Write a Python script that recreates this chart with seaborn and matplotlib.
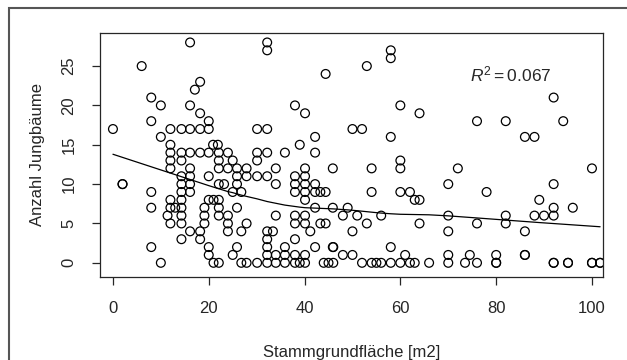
import numpy as np
import pandas as pd
import seaborn as sns
import matplotlib.pyplot as plt
from matplotlib.patches import Rectangle

# Stammgrundfläche [m2] und Anzahl Jungbäume
# (einige Kreise liegen mehrfach übereinander)
basal_area = [
    0, 2, 2, 6, 8, 10, 8, 10, 8, 8, 8, 10,
    12, 12, 12, 12, 12, 12, 12, 12, 13, 11.4,
    14.3, 14.3, 14.3, 14.3, 14.3, 14.3, 14.3, 14.3, 14.3, 14.3, 14.3,
    16.1, 16.1, 16.1, 16.1, 16.1, 16.1, 16.1, 16.1, 16.1,
    17.1, 18.2, 18.2, 18.2, 18.2, 18.2, 18.2,
    19.1, 19.1, 19.1,
    20, 20, 20, 20, 20, 20, 20,
    21, 21, 20.9, 21.9,
    22.1, 22.1, 22.1, 22.1, 22.1, 22.1, 22.1, 22.1,
    23.2, 24, 24, 24, 24, 24, 25, 25, 25,
    25.9, 25.9, 25.9, 25.9, 25.9, 26.8, 26.8, 26.8,
    27.9, 27.9, 27.9, 27.9,
    30.1, 30.1, 30.1, 30.1, 30.1,
    32.2, 32.2, 32.2, 32.2, 32.2, 32.2, 32.2, 32.2, 32.2, 32.2,
    33.4, 34, 34, 34, 34, 34, 35.9, 35.9, 35.9, 35.9,
    38, 38, 38, 38, 38, 38, 38, 38, 38, 39, 39,
    40.1, 40.1, 40.1, 40.1, 40.1, 40.1, 40.1, 40.1, 40.1, 40.1,
    41.2, 42.2, 42.2, 42.2, 42.2, 42.2, 42.2,
    43.3, 43.3, 44, 45, 46, 44.4, 44.4, 44.4,
    45.9, 45.9, 45.9, 46, 48, 48, 49, 50, 51, 50, 50,
    52, 53, 52, 54, 54, 54, 55, 56, 56, 53,
    58, 58, 58, 58, 58, 60, 60, 60, 60, 60, 61,
    62, 62, 63, 63, 64, 64, 64, 66,
    70, 70, 70, 70, 70, 72, 74.5, 73.5, 76, 76, 76, 78, 80, 80,
    82, 82, 82, 86, 86, 86, 88, 88, 89, 90,
    92, 92, 92, 92, 92, 94, 95, 96, 100, 100, 101.7,
    # doppelte Kreise
    80, 92, 95, 100, 101.7, 86,
]
saplings = [
    17, 10, 10, 25, 21, 20, 18, 16, 9, 7, 2, 0,
    17, 15, 14, 13, 12, 8, 7, 5, 7, 6,
    17, 14, 13, 11, 10, 9, 8, 7, 6, 5, 3,
    28, 20, 17, 14, 12, 11, 10, 9, 4,
    22, 23, 19, 17, 14, 4, 3,
    7, 6, 5,
    18, 17, 14, 11, 8, 2, 1,
    8, 0, 15, 15,
    14, 13, 12, 10, 8, 7, 6, 0,
    10, 14, 12, 6, 5, 4, 13, 9, 1,
    12, 11, 10, 7, 2, 9, 4, 0,
    12, 11, 5, 0,
    17, 14, 13, 11, 0,
    28, 27, 17, 14, 11, 4, 3, 2, 1, 0,
    4, 12, 10, 6, 1, 0, 14, 2, 1, 0,
    20, 11, 10, 9, 6, 5, 3, 1, 0, 15, 0,
    19, 12, 11, 10, 9, 8, 6, 5, 1, 0,
    4, 16, 14, 10, 9, 7, 2,
    9, 5, 0, 0, 0, 24, 9, 5,
    12, 7, 2, 2, 6, 1, 7, 17, 6, 4, 1,
    0, 25, 17, 12, 9, 0, 0, 6, 0, 5,
    27, 26, 16, 2, 0, 20, 13, 12, 9, 0, 1,
    9, 0, 8, 0, 19, 8, 5, 0,
    10, 6, 4, 1, 0, 12, 1, 0, 0, 18, 5, 9, 1, 0,
    18, 6, 5, 16, 4, 1, 16, 6, 8, 6,
    21, 10, 7, 6, 0, 18, 0, 7, 12, 0, 0,
    0, 0, 0, 0, 0, 1,
]
r2_label = r"$R^2 = 0.067$"
x_ticks = [0, 20, 40, 60, 80, 100]
y_ticks = [0, 5, 10, 15, 20, 25]


def lowess(x, y, f=2 / 3, iters=3):
    """einfache Variante von R lowess()"""
    order = np.argsort(x, kind="stable")
    x = np.asarray(x, float)[order]
    y = np.asarray(y, float)[order]
    n = len(x)
    r = int(np.ceil(f * n))
    fit = np.zeros(n)
    w_rob = np.ones(n)
    for _ in range(iters + 1):
        for i in range(n):
            d = np.abs(x - x[i])
            h = np.sort(d)[r - 1]
            u = np.clip(d / max(h, 1e-12), 0, 1)
            w = (1 - u ** 3) ** 3 * w_rob
            sw = w.sum()
            xm = (w * x).sum() / sw
            ym = (w * y).sum() / sw
            sxx = (w * (x - xm) ** 2).sum()
            b = (w * (x - xm) * (y - ym)).sum() / sxx if sxx > 0 else 0
            fit[i] = ym + b * (x[i] - xm)
        res = y - fit
        s = np.median(np.abs(res))
        u = np.clip(res / (6 * s), -1, 1)
        w_rob = (1 - u ** 2) ** 2
    return x, fit


df = pd.DataFrame({"x": basal_area, "y": saplings})

sns.set_style("ticks")
plt.rcParams["font.family"] = ["Liberation Sans", "DejaVu Sans"]
plt.rcParams["mathtext.fontset"] = "custom"
plt.rcParams["mathtext.rm"] = "Liberation Sans"
plt.rcParams["mathtext.it"] = "Liberation Sans:italic"

fig = plt.figure(figsize=(6.27, 3.6), dpi=100)
ax = fig.add_axes([0.1595, 0.2306, 0.8022, 0.6777])

sns.scatterplot(data=df, x="x", y="y", ax=ax, marker="o", s=40,
                facecolor="none", edgecolor="black", linewidth=0.9, legend=False)
lx, ly = lowess(df["x"], df["y"])
sns.lineplot(x=lx, y=ly, ax=ax, color="black", linewidth=0.9,
             estimator=None, sort=False)

ax.set_xlim(-2.7, 102.3)
ax.set_ylim(-1.8, 29.2)
ax.set_xticks(x_ticks)
ax.set_yticks(y_ticks)
ax.set_yticklabels([str(t) for t in y_ticks], rotation=90, va="center")
ax.tick_params(direction="out", length=6, width=0.9, pad=11, labelsize=12)
for sp in ax.spines.values():
    sp.set_visible(True)
    sp.set_linewidth(0.9)
ax.set_xlabel("Stammgrundfläche [m2]", fontsize=12, labelpad=21)
ax.set_ylabel("Anzahl Jungbäume", fontsize=12, labelpad=12)
ax.text(83, 23.9, r2_label, fontsize=12.5, ha="center", va="center")

# äußerer Rahmen
fig.patches.append(Rectangle((9 / 627, -0.5), 2, 1.5 - 8 / 360,
                             transform=fig.transFigure, fill=False,
                             edgecolor="#555555", linewidth=1.5))

fig.savefig("out.png", dpi=100)
